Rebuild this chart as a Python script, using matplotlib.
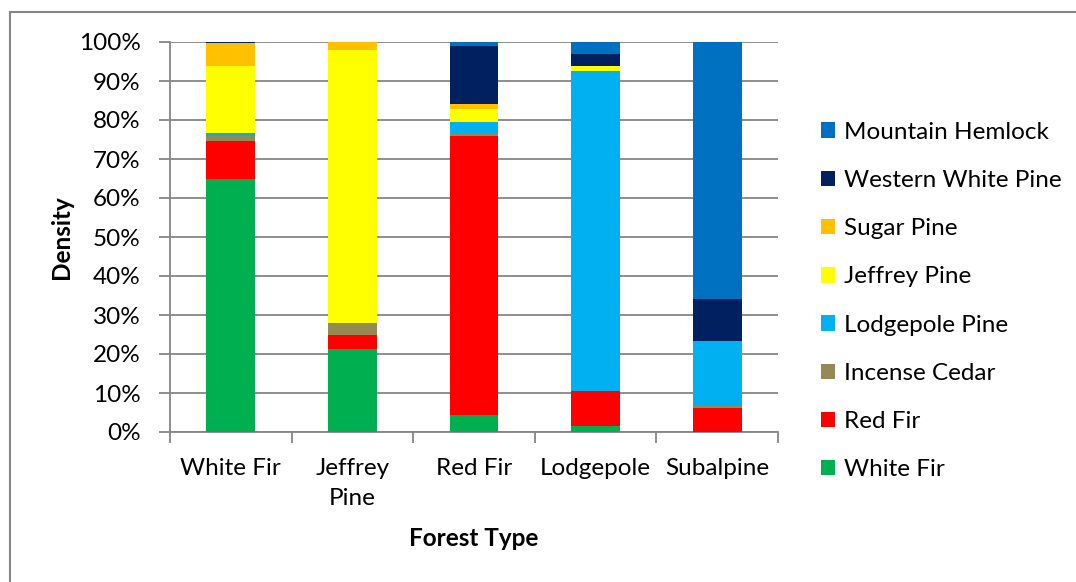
import matplotlib
matplotlib.use("Agg")
import matplotlib.pyplot as plt
import numpy as np
from matplotlib.lines import Line2D

plt.rcParams['font.family'] = ['Lato', 'DejaVu Sans']

forest_types = ["White Fir", "Jeffrey\nPine", "Red Fir", "Lodgepole", "Subalpine"]

species = ["White Fir", "Red Fir", "Incense Cedar", "Lodgepole Pine",
           "Jeffrey Pine", "Sugar Pine", "Western White Pine", "Mountain Hemlock"]
colors = ["#00B050", "#FF0000", "#948A54", "#00B0F0",
          "#FFFF00", "#FFC000", "#002060", "#0070C0"]

# density share (%) per forest type, stacked from bottom to top
white_fir = [65.0, 21.3, 4.3, 1.5, 0.0]
red_fir = [9.6, 3.7, 71.7, 8.9, 6.1]
incense_cedar = [1.4, 2.6, 0.5, 0.1, 0.6]
lodgepole_pine = [0.7, 0.4, 3.1, 82.0, 16.6]
jeffrey_pine = [17.1, 69.9, 3.3, 1.4, 0.0]
sugar_pine = [5.9, 2.1, 1.2, 0.0, 0.0]
western_white_pine = [0.3, 0.0, 15.0, 3.1, 10.8]
mountain_hemlock = [0.0, 0.0, 0.9, 3.0, 65.9]

series = [white_fir, red_fir, incense_cedar, lodgepole_pine,
          jeffrey_pine, sugar_pine, western_white_pine, mountain_hemlock]

W, H = 1076, 582
FS = 17.5
fig = plt.figure(figsize=(W / 100, H / 100), dpi=100)

# chart frame (top and left edges)
fig.add_artist(Line2D([10 / W, 10 / W], [0, 1 - 12 / H], color="#868686", lw=1.5))
fig.add_artist(Line2D([10 / W, 1], [1 - 12 / H, 1 - 12 / H], color="#868686", lw=1.5))

ax = fig.add_axes([170 / W, 150 / H, 608 / W, 390 / H])

x = np.arange(len(forest_types))
bottom = np.zeros(len(forest_types))
handles = []
for name, vals, c in zip(species, series, colors):
    vals = np.array(vals)
    b = ax.bar(x, vals, width=0.4, bottom=bottom, color=c, label=name,
               edgecolor="none", zorder=3)
    handles.append(b)
    bottom += vals

grid_c = "#868686"
ax.set_ylim(0, 100)
ax.set_xlim(-0.5, len(forest_types) - 0.5)
ax.set_yticks(np.arange(0, 101, 10))
ax.set_yticklabels([f"{v}%" for v in range(0, 101, 10)])
ax.yaxis.grid(True, color=grid_c, lw=1.3, zorder=0)
ax.set_axisbelow(True)

ax.set_xticks(x)
ax.set_xticklabels(forest_types, linespacing=1.55)
ax.set_xticks(np.arange(-0.5, len(forest_types), 1), minor=True)
ax.tick_params(axis="x", which="major", length=0, pad=18.5, labelsize=FS)
ax.tick_params(axis="x", which="minor", length=8, color=grid_c, width=1.3, direction="out")
ax.tick_params(axis="y", length=8, color=grid_c, width=1.3, direction="out",
               labelsize=FS, pad=13)

for s in ["top", "right"]:
    ax.spines[s].set_visible(False)
for s in ["left", "bottom"]:
    ax.spines[s].set_color(grid_c)
    ax.spines[s].set_linewidth(1.3)

ax.set_xlabel("Forest Type", fontsize=FS, fontweight="bold", labelpad=13)
ax.set_ylabel("Density", fontsize=FS, fontweight="bold", labelpad=4)

leg = fig.legend(handles[::-1], species[::-1], loc="upper left",
                 bbox_to_anchor=(811 / W, 1 - 112 / H), frameon=False,
                 fontsize=FS, handlelength=0.6, handleheight=0.6,
                 handletextpad=0.35, labelspacing=1.12, borderaxespad=0)

fig.savefig("out.png", dpi=100, facecolor="white")
